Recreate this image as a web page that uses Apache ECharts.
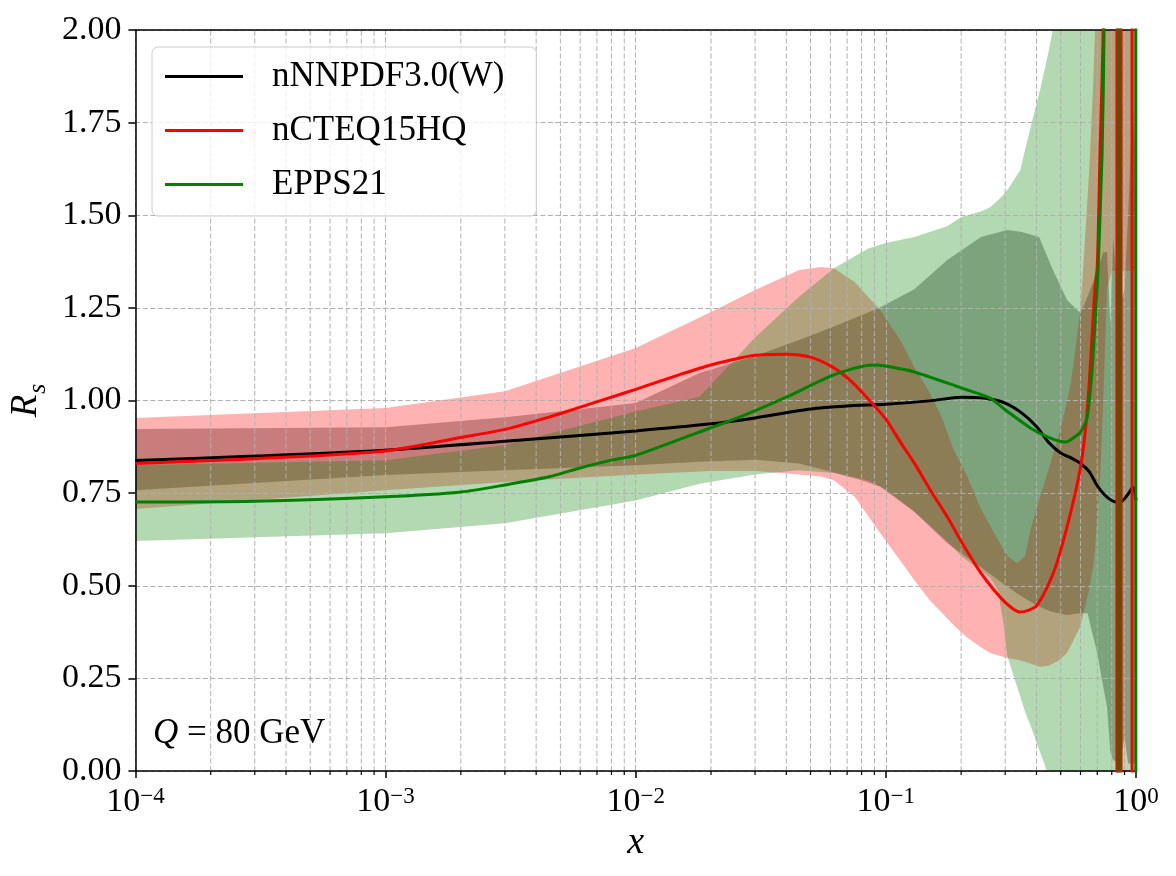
<!DOCTYPE html>
<html><head><meta charset="utf-8">
<script src="https://cdn.jsdelivr.net/npm/echarts@6/dist/echarts.min.js"></script>
<style>html,body{margin:0;padding:0;background:#fff}#c{width:1176px;height:876px}</style>
</head><body><div id="c"></div>
<script>
const FONT = '"Liberation Serif", "DejaVu Serif", serif';

// ---- labels ----
const seriesNames = ['nNNPDF3.0(W)', 'nCTEQ15HQ', 'EPPS21'];
const xTickExponents = [-4, -3, -2, -1, 0];
const yTickValues = [0, 0.25, 0.5, 0.75, 1.0, 1.25, 1.5, 1.75, 2.0];
const annotationText = 'Q = 80 GeV';

// ---- central lines ----
const blackX = [1e-4, 3e-4, 1e-3, 3e-3, 0.01, 0.02, 0.03, 0.05, 0.07, 0.1, 0.15, 0.2, 0.25, 0.3, 0.35, 0.4, 0.45, 0.5, 0.55, 0.6, 0.65, 0.7, 0.75, 0.8, 0.855, 0.9, 0.94, 0.97, 0.985, 1.0];
const blackY = [0.838, 0.85, 0.866, 0.89, 0.918, 0.937, 0.953, 0.977, 0.985, 0.99, 0.999, 1.009, 1.006, 0.993, 0.966, 0.93, 0.885, 0.858, 0.845, 0.83, 0.808, 0.77, 0.745, 0.73, 0.724, 0.735, 0.752, 0.765, 0.76, 0.73];

const redX = [1e-4, 3e-4, 1e-3, 2e-3, 3e-3, 4.5e-3, 6e-3, 8e-3, 0.01, 0.015, 0.02, 0.03, 0.04, 0.05, 0.062, 0.074, 0.088, 0.1, 0.115, 0.13, 0.15, 0.176, 0.2, 0.24, 0.3, 0.345, 0.4, 0.467, 0.53, 0.6, 0.638, 0.667, 0.686, 0.7, 0.718, 0.739, 0.78, 0.839, 0.8395, 0.871, 0.8715, 0.964, 0.9645, 1.0];
const redY = [0.83, 0.843, 0.864, 0.9, 0.922, 0.955, 0.982, 1.009, 1.03, 1.07, 1.096, 1.122, 1.125, 1.117, 1.088, 1.047, 0.993, 0.95, 0.885, 0.831, 0.76, 0.686, 0.62, 0.534, 0.455, 0.429, 0.446, 0.534, 0.659, 0.82, 0.97, 1.171, 1.306, 1.36, 1.668, 2.0, 4, 60, -60, -60, 60, 60, -60, -60];

const greenX = [1e-4, 3e-4, 1e-3, 2e-3, 3e-3, 4.5e-3, 6e-3, 8e-3, 0.01, 0.018, 0.026, 0.04, 0.062, 0.089, 0.1, 0.13, 0.2, 0.26, 0.3, 0.378, 0.45, 0.52, 0.545, 0.6, 0.638, 0.667, 0.693, 0.705, 0.732, 0.745, 0.79, 0.854, 0.8545, 0.998, 0.9985, 1.0];
const greenY = [0.726, 0.728, 0.74, 0.753, 0.772, 0.794, 0.818, 0.839, 0.852, 0.915, 0.955, 1.009, 1.069, 1.096, 1.093, 1.077, 1.034, 1.007, 0.975, 0.926, 0.90, 0.888, 0.893, 0.915, 0.955, 1.082, 1.263, 1.352, 1.668, 2.0, 5, 60, -60, -60, 60, 60];

// ---- uncertainty bands ----
const blackBandX = [1e-4, 1e-3, 3e-3, 0.01, 0.018, 0.03, 0.045, 0.062, 0.08, 0.095, 0.13, 0.176, 0.24, 0.306, 0.35, 0.41, 0.46, 0.53, 0.6, 0.64, 0.7, 0.74, 0.766, 0.79, 0.81, 0.86, 0.9, 0.93, 0.97, 1.0];
const blackBandLo = [0.758, 0.799, 0.812, 0.825, 0.835, 0.84, 0.83, 0.806, 0.785, 0.767, 0.70, 0.615, 0.55, 0.497, 0.47, 0.443, 0.43, 0.421, 0.426, 0.426, 0.318, 0.227, 0.173, 0.05, 0.03, 0.02, 0.09, 0.02, 0.02, 0.02];
const blackBandHi = [0.923, 0.928, 0.955, 0.993, 1.074, 1.12, 1.163, 1.2, 1.23, 1.252, 1.30, 1.379, 1.441, 1.46, 1.455, 1.441, 1.36, 1.271, 1.236, 1.28, 1.35, 1.4, 1.4, 1.2, 1.44, 1.25, 1.3, 1.5, 1.8, 1.6];

const redBandX = [1e-4, 1e-3, 3e-3, 0.01, 0.02, 0.03, 0.045, 0.055, 0.062, 0.075, 0.095, 0.115, 0.13, 0.15, 0.166, 0.186, 0.21, 0.239, 0.262, 0.306, 0.335, 0.36, 0.378, 0.414, 0.45, 0.497, 0.531, 0.55, 0.598, 0.614, 0.65, 0.674, 0.686, 0.699, 0.72, 0.74, 0.766, 0.8, 1.0];
const redBandLo = [0.707, 0.758, 0.78, 0.80, 0.81, 0.81, 0.80, 0.795, 0.785, 0.74, 0.642, 0.565, 0.515, 0.46, 0.43, 0.395, 0.362, 0.335, 0.318, 0.305, 0.30, 0.295, 0.29, 0.281, 0.285, 0.30, 0.32, 0.34, 0.389, 0.42, 0.49, 0.551, 0.6, 0.677, 0.8, 1.0, 1.3, 1.35, 1.35];
const redBandHi = [0.953, 0.98, 1.025, 1.142, 1.239, 1.298, 1.352, 1.36, 1.357, 1.32, 1.244, 1.16, 1.09, 1.02, 0.96, 0.87, 0.80, 0.71, 0.66, 0.58, 0.561, 0.58, 0.65, 0.74, 0.82, 0.92, 1.0, 1.05, 1.236, 1.35, 1.62, 1.85, 2.0, 2.2, 3, 4, 5, 5, 5];

const greenBandX = [1e-4, 1e-3, 3e-3, 0.01, 0.018, 0.03, 0.045, 0.062, 0.085, 0.1, 0.13, 0.176, 0.2, 0.24, 0.262, 0.28, 0.295, 0.306, 0.345, 0.36, 0.38, 0.414, 0.44, 0.45, 0.48, 0.5, 0.6, 1.0];
const greenBandLo = [0.621, 0.642, 0.669, 0.73, 0.775, 0.80, 0.812, 0.804, 0.785, 0.76, 0.70, 0.62, 0.58, 0.54, 0.52, 0.49, 0.40, 0.31, 0.2, 0.16, 0.12, 0.05, 0.0, -0.05, -0.2, -0.3, -0.5, -0.5];
const greenBandHi = [0.826, 0.839, 0.88, 0.97, 1.01, 1.17, 1.28, 1.357, 1.41, 1.425, 1.441, 1.47, 1.495, 1.51, 1.522, 1.54, 1.555, 1.568, 1.622, 1.676, 1.74, 1.84, 1.92, 1.95, 2.05, 2.2, 5, 5];

// minor log ticks (2..9 x each decade)
const minorTickX = [];
for (let e = -4; e < 0; e++) for (let m = 2; m <= 9; m++) minorTickX.push(m * Math.pow(10, e));

const GRID_COLOR = '#b0b0b0';
const DASH = [5, 2.5];

function pairs(xs, ys) { return xs.map((x, i) => [x, ys[i]]); }

function bandSeries(xs, lo, hi, color) {
  return {
    type: 'custom', clip: true, z: 2, silent: true,
    data: [[xs[0], lo[0]]],
    encode: { x: 0, y: 1 },
    renderItem: function (params, api) {
      const pts = [];
      for (let i = 0; i < xs.length; i++) pts.push(api.coord([xs[i], hi[i]]));
      for (let i = xs.length - 1; i >= 0; i--) pts.push(api.coord([xs[i], lo[i]]));
      return { type: 'polygon', shape: { points: pts }, style: { fill: color } };
    }
  };
}

function lineSeries(name, xs, ys, color) {
  return {
    type: 'line', name: name, data: pairs(xs, ys), z: 5,
    showSymbol: false, symbol: 'none', clip: true,
    smooth: 0.25,
    itemStyle: { color: color },
    lineStyle: { color: color, width: 3 }
  };
}

const chart = echarts.init(document.getElementById('c'));
chart.setOption({
  animation: false,
  backgroundColor: '#ffffff',
  grid: { left: 133, right: 40, top: 30, bottom: 105, show: false },
  xAxis: [{
    type: 'log', logBase: 10, min: 1e-4, max: 1, z: 3,
    axisLine: { show: true, onZero: false, lineStyle: { color: '#000', width: 1.5 } },
    axisTick: { show: true, inside: false, length: 7, lineStyle: { color: '#000', width: 1.5 } },
    axisLabel: {
      margin: 14, showMinLabel: true, showMaxLabel: true,
      formatter: function (v) {
        const e = Math.round(Math.log10(v));
        return '{b|10}{e|' + (e < 0 ? '\u2212' + (-e) : e) + '}';
      },
      rich: {
        b: { fontFamily: FONT, fontSize: 34, lineHeight: 34, color: '#000' },
        e: { fontFamily: FONT, fontSize: 23, lineHeight: 23, verticalAlign: 'top', color: '#000' }
      }
    },
    splitLine: { show: true, lineStyle: { color: GRID_COLOR, width: 1, type: DASH } },
    name: 'x', nameLocation: 'middle', nameGap: 52,
    nameTextStyle: { fontFamily: FONT, fontStyle: 'italic', fontSize: 38, color: '#000' }
  }, {
    type: 'log', logBase: 10, min: 1e-4, max: 1, position: 'top', z: 3,
    axisLine: { show: true, onZero: false, lineStyle: { color: '#000', width: 1.5 } },
    axisTick: { show: false }, axisLabel: { show: false }, splitLine: { show: false }
  }],
  yAxis: [{
    type: 'value', min: 0, max: 2, interval: 0.25, z: 3,
    axisLine: { show: true, onZero: false, lineStyle: { color: '#000', width: 1.5 } },
    axisTick: { show: true, inside: false, length: 7, lineStyle: { color: '#000', width: 1.5 } },
    axisLabel: {
      margin: 14, fontFamily: FONT, fontSize: 34, color: '#000',
      formatter: function (v) { return v.toFixed(2); }
    },
    splitLine: { show: true, lineStyle: { color: GRID_COLOR, width: 1, type: DASH } },
    name: '{r|R}{s|s}', nameLocation: 'middle', nameRotate: 90, nameGap: 82,
    nameTextStyle: {
      rich: {
        r: { fontFamily: FONT, fontStyle: 'italic', fontSize: 37, lineHeight: 37, verticalAlign: 'top', color: '#000' },
        s: { fontFamily: FONT, fontStyle: 'italic', fontSize: 26, lineHeight: 26, padding: [17, 0, 0, 1], verticalAlign: 'top', color: '#000' }
      }
    }
  }, {
    type: 'value', min: 0, max: 2, position: 'right', z: 3,
    axisLine: { show: true, onZero: false, lineStyle: { color: '#000', width: 1.5 } },
    axisTick: { show: false }, axisLabel: { show: false }, splitLine: { show: false }
  }],
  legend: {
    data: seriesNames, orient: 'vertical', left: 152, top: 47, z: 10,
    icon: 'rect', itemWidth: 78, itemHeight: 3, itemGap: 19,
    padding: [12, 32, 14, 13],
    backgroundColor: 'rgba(255,255,255,0.8)', borderColor: '#cccccc', borderWidth: 1, borderRadius: 6,
    textStyle: { fontFamily: FONT, fontSize: 35, color: '#000', padding: [0, 0, 0, 24] }
  },
  graphic: [{
    type: 'text', left: 153, top: 716, z: 10,
    style: {
      text: '{q|Q}{t| = 80 GeV}',
      rich: {
        q: { fontFamily: FONT, fontStyle: 'italic', fontSize: 35, fill: '#000' },
        t: { fontFamily: FONT, fontSize: 35, fill: '#000' }
      }
    }
  }],
  series: [
    bandSeries(blackBandX, blackBandLo, blackBandHi, 'rgba(0,0,0,0.3)'),
    bandSeries(redBandX, redBandLo, redBandHi, 'rgba(255,0,0,0.3)'),
    bandSeries(greenBandX, greenBandLo, greenBandHi, 'rgba(0,128,0,0.3)'),
    {
      type: 'custom', z: 3, silent: true, clip: false,
      data: minorTickX.map(x => [x, 0]), encode: { x: 0, y: 1 },
      renderItem: function (params, api) {
        const x = api.value(0);
        const p0 = api.coord([x, 0]);
        const p1 = api.coord([x, 2]);
        return {
          type: 'group', children: [
            { type: 'line', shape: { x1: p0[0], y1: p0[1], x2: p1[0], y2: p1[1] }, style: { stroke: GRID_COLOR, lineWidth: 1, lineDash: DASH } },
            { type: 'line', shape: { x1: p0[0], y1: p0[1], x2: p0[0], y2: p0[1] + 4 }, style: { stroke: '#000', lineWidth: 1.2 } }
          ]
        };
      }
    },
    lineSeries(seriesNames[0], blackX, blackY, '#000000'),
    lineSeries(seriesNames[1], redX, redY, '#ff0000'),
    lineSeries(seriesNames[2], greenX, greenY, '#008000')
  ]
});
</script>
</body></html>
